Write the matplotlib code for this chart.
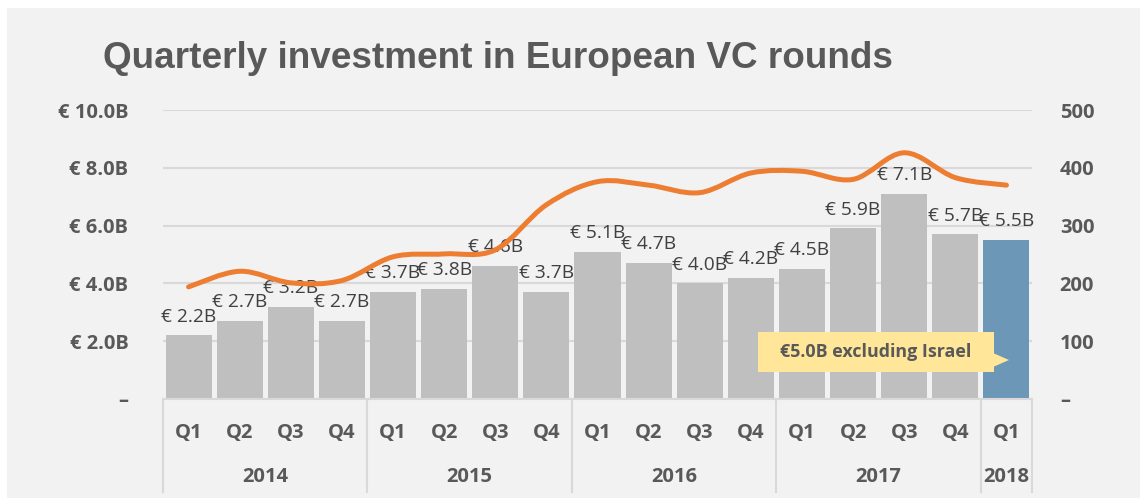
import matplotlib.pyplot as plt
import numpy as np
from matplotlib.path import Path
from matplotlib.patches import PathPatch, Polygon, Rectangle
from matplotlib.transforms import blended_transform_factory

# data
quarters = ['Q1', 'Q2', 'Q3', 'Q4'] * 4 + ['Q1']
years = ['2014', '2015', '2016', '2017', '2018']
year_sizes = [4, 4, 4, 4, 1]
invest = [2.2, 2.7, 3.2, 2.7, 3.7, 3.8, 4.6, 3.7, 5.1, 4.7, 4.0, 4.2, 4.5, 5.9, 7.1, 5.7, 5.5]
invest_labels = ['€ %.1fB' % v for v in invest]
deals = [194, 221, 201, 205, 246, 251, 258, 336, 376, 370, 357, 391, 394, 380, 426, 383, 370]
left_ticks = [0, 2, 4, 6, 8, 10]
left_ticklabels = ['–', '€ 2.0B', '€ 4.0B', '€ 6.0B', '€ 8.0B', '€ 10.0B']
right_ticks = [0, 100, 200, 300, 400, 500]
right_ticklabels = ['–', '100', '200', '300', '400', '500']

GRAY_TXT = '#595959'
LBL_TXT = '#404040'
plt.rcParams['font.family'] = ['Open Sans', 'DejaVu Sans']

fig = plt.figure(figsize=(11.4, 4.98), dpi=100)
fig.patch.set_facecolor('white')
fig.add_artist(Rectangle((7 / 1140, 0), 1, 1 - 8 / 498, transform=fig.transFigure,
                         facecolor='#f2f2f2', edgecolor='none', zorder=-10))

ax = fig.add_axes([163 / 1140, 1 - 399 / 498, (1032 - 163) / 1140, 289 / 498])
ax.set_facecolor('none')
x = np.arange(len(invest))
colors = ['#bfbfbf'] * (len(invest) - 1) + ['#6d97b7']
ax.bar(x, invest, width=0.9, color=colors, zorder=2)
ax.set_xlim(-0.5, len(invest) - 0.5)
ax.set_ylim(0, 10)
ax.set_yticks(left_ticks)
ax.set_yticklabels(left_ticklabels, fontsize=14.5, fontweight='bold', color=GRAY_TXT)
ax.tick_params(axis='y', length=0, pad=25)
ax.set_xticks([])
ax.grid(axis='y', color='#d9d9d9', linewidth=1.5, zorder=0)
for s in ['top', 'right', 'left']:
    ax.spines[s].set_visible(False)
ax.spines['bottom'].set_color('#d9d9d9')
ax.spines['bottom'].set_linewidth(1.5)

for xi, v, t in zip(x, invest, invest_labels):
    ax.annotate(t, (xi, v), xytext=(0, 7), textcoords='offset points',
                ha='center', va='bottom', fontsize=13.8, color=LBL_TXT, zorder=5)

# category axis (two levels)
tr = blended_transform_factory(ax.transData, ax.transAxes)
for xi, q in zip(x, quarters):
    ax.text(xi, -0.118, q, transform=tr, ha='center', va='center',
            fontsize=14.5, fontweight='bold', color=GRAY_TXT)
start = 0
bounds = [-0.5]
for yr, n in zip(years, year_sizes):
    ax.text(start + (n - 1) / 2, -0.27, yr, transform=tr, ha='center', va='center',
            fontsize=14.5, fontweight='bold', color=GRAY_TXT)
    start += n
    bounds.append(start - 0.5)
for b in bounds:
    ax.plot([b, b], [0, -0.322], transform=tr, color='#d9d9d9', lw=1.5, clip_on=False)

# deals line, smoothed like the spreadsheet curve
ax2 = ax.twinx()
ax2.set_ylim(0, 500)
ax2.set_yticks(right_ticks)
ax2.set_yticklabels(right_ticklabels, fontsize=14.5, fontweight='bold', color=GRAY_TXT)
ax2.tick_params(axis='y', length=0, pad=20)
for s in ax2.spines.values():
    s.set_visible(False)
pts = np.column_stack([x, deals]).astype(float)
ext = np.vstack([pts[0], pts, pts[-1]])
verts = [tuple(pts[0])]
codes = [Path.MOVETO]
for i in range(len(pts) - 1):
    p0, p1, p2, p3 = ext[i], ext[i + 1], ext[i + 2], ext[i + 3]
    verts += [tuple(p1 + (p2 - p0) / 6), tuple(p2 - (p3 - p1) / 6), tuple(p2)]
    codes += [Path.CURVE4] * 3
ax2.add_patch(PathPatch(Path(verts, codes), facecolor='none', edgecolor='#ed7d31',
                        lw=3.6, capstyle='round', zorder=4))

# callout
fig.add_artist(Rectangle((758 / 1140, 1 - 372 / 498), 236 / 1140, 40 / 498,
                         transform=fig.transFigure, facecolor='#ffe699',
                         edgecolor='none', zorder=6))
fig.add_artist(Polygon([(993 / 1140, 1 - 353 / 498), (1009 / 1140, 1 - 360 / 498),
                        (993 / 1140, 1 - 367 / 498)], closed=True,
                       transform=fig.transFigure, facecolor='#ffe699',
                       edgecolor='none', zorder=6))
fig.text(876 / 1140, 1 - 352 / 498, '€5.0B excluding Israel', ha='center', va='center',
         fontsize=12.9, fontweight='bold', color=GRAY_TXT, zorder=7)

fig.text(103 / 1140, 1 - 58 / 498, 'Quarterly investment in European VC rounds',
         ha='left', va='center', fontsize=26.6, fontweight='bold', color=GRAY_TXT,
         family=['Liberation Sans', 'DejaVu Sans'])

fig.savefig('out.png', dpi=100, facecolor=fig.get_facecolor())
